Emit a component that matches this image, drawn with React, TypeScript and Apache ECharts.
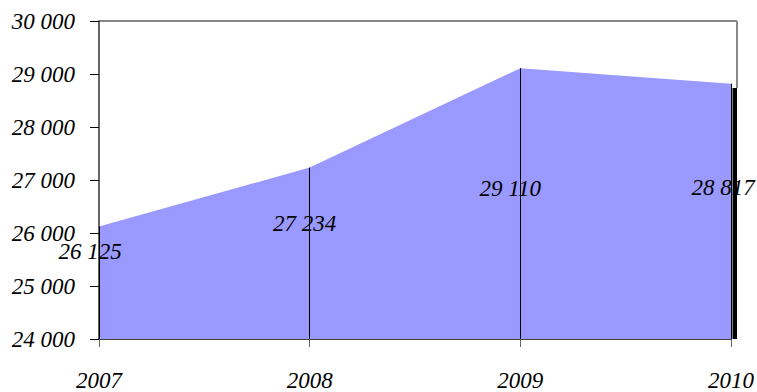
import React, { useEffect, useRef } from "react";
import * as echarts from "echarts";

const years = ["2007", "2008", "2009", "2010"];
const values = [26125, 27234, 29110, 28817];
const yMin = 24000;
const yMax = 30000;
const yStep = 1000;

// label placement relative to each point: [dx, dy]
const labelOffsets: [number, number][] = [
  [-9, 25],
  [-5, 56],
  [-10, 120],
  [-8, 104],
];

const FONT = '"Liberation Serif", "Times New Roman", serif';
const FONT_SIZE = 23;

const fmt = (v: number) => {
  const s = String(Math.round(v));
  return s.replace(/\B(?=(\d{3})+(?!\d))/g, " ");
};

export default function App() {
  const ref = useRef<HTMLDivElement>(null);

  useEffect(() => {
    document.body.style.margin = "0";
    if (!ref.current) return;
    const chart = echarts.init(ref.current, null, { renderer: "svg" });
    const gridLeft = 99;
    const gridTop = 21;
    const gridRight = 25;
    const gridBottom = 52;

    chart.setOption({
      animation: false,
      grid: { left: gridLeft, top: gridTop, right: gridRight, bottom: gridBottom },
      xAxis: {
        type: "category",
        data: years,
        boundaryGap: false,
        axisLine: { lineStyle: { color: "#000", width: 1.5 } },
        axisTick: { show: true, length: 8, lineStyle: { color: "#666" } },
        axisLabel: {
          margin: 30,
          fontFamily: FONT,
          fontStyle: "italic",
          fontSize: FONT_SIZE,
          color: "#000",
        },
        splitLine: { show: false },
      },
      yAxis: {
        type: "value",
        min: yMin,
        max: yMax,
        interval: yStep,
        axisLine: { show: true, lineStyle: { color: "#333", width: 1.5 } },
        axisTick: { show: true, length: 9, lineStyle: { color: "#000" } },
        axisLabel: {
          margin: 24,
          fontFamily: FONT,
          fontStyle: "italic",
          fontSize: FONT_SIZE,
          color: "#000",
          formatter: (v: number) => fmt(v),
        },
        splitLine: { show: false },
      },
      series: [
        {
          type: "line",
          data: values.map((v, i) => ({
            value: v,
            label: { offset: labelOffsets[i] },
          })),
          showSymbol: true,
          symbol: "circle",
          symbolSize: 1,
          itemStyle: { color: "rgba(0,0,0,0)" },
          lineStyle: { width: 0 },
          areaStyle: { color: "#9999ff", opacity: 1, origin: "start" },
          label: {
            show: true,
            position: "inside",
            fontFamily: FONT,
            fontStyle: "italic",
            fontSize: FONT_SIZE,
            color: "#000",
            formatter: (p: any) => fmt(p.value),
          },
          markLine: {
            silent: true,
            symbol: ["none", "none"],
            label: { show: false },
            lineStyle: { color: "#000", width: 1, type: "solid" },
            data: values.map((v, i) => [
              { coord: [i, v] },
              { coord: [i, yMin] },
            ]),
          },
          z: 2,
        },
      ],
    });

    // frame and the dark side edge of the area
    const w = chart.getWidth();
    const frameRight = w - gridRight + 5;
    const last = values.length - 1;
    const pTop = chart.convertToPixel({ xAxisIndex: 0, yAxisIndex: 0 }, [last, values[last] - 80]) as number[];
    const pBottom = chart.convertToPixel({ xAxisIndex: 0, yAxisIndex: 0 }, [last, yMin]) as number[];
    chart.setOption({
      graphic: [
        {
          type: "line",
          shape: { x1: gridLeft, y1: gridTop, x2: frameRight, y2: gridTop },
          style: { stroke: "#888", lineWidth: 2 },
          z: 0,
        },
        {
          type: "line",
          shape: { x1: frameRight, y1: gridTop, x2: frameRight, y2: pTop[1] },
          style: { stroke: "#888", lineWidth: 2 },
          z: 0,
        },
        {
          type: "rect",
          shape: { x: pTop[0] + 1.5, y: pTop[1], width: 4.5, height: pBottom[1] - pTop[1] },
          style: { fill: "#000" },
          z: 5,
        },
      ],
    });

    return () => chart.dispose();
  }, []);

  return <div ref={ref} style={{ width: 757, height: 392 }} />;
}
